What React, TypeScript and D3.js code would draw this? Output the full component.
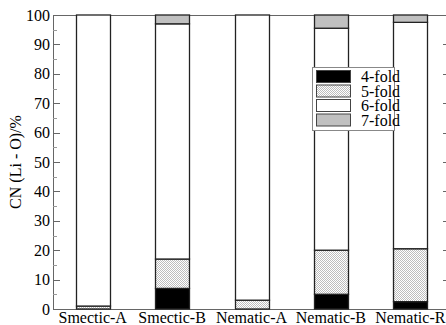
import React from "react";
import * as d3 from "d3";

const categories = ["Smectic-A", "Smectic-B", "Nematic-A", "Nematic-B", "Nematic-R"];
const seriesNames = ["4-fold", "5-fold", "6-fold", "7-fold"];
const fold4 = [0, 7, 0, 5, 2.5];
const fold5 = [1, 10, 3, 15, 18];
const fold6 = [99, 80, 97, 75.5, 77];
const fold7 = [0, 3, 0, 4.5, 2.5];
const yTicks = [0, 10, 20, 30, 40, 50, 60, 70, 80, 90, 100];
const yMinorTicks = [5, 15, 25, 35, 45, 55, 65, 75, 85, 95];

const W = 446;
const H = 325;
const left = 53;
const right = 450;
const top = 15;
const bottom = 309;

const fills = ["#000000", "url(#hatch)", "#ffffff", "#c0c0c0"];
const FONT = "'Liberation Serif', 'DejaVu Serif', serif";

export default function App() {
  const x = d3.scaleBand<string>().domain(categories).range([left, right]);
  const y = d3.scaleLinear().domain([0, 100]).range([bottom, top]);
  const rows = categories.map((c, i) => ({
    cat: c,
    "4-fold": fold4[i],
    "5-fold": fold5[i],
    "6-fold": fold6[i],
    "7-fold": fold7[i],
  }));
  const stack = d3.stack<any>().keys(seriesNames)(rows);
  const barW = 34;
  const axisColor = "#666";

  return (
    <svg width={W} height={H} style={{ position: "absolute", left: 0, top: 0, background: "#fff" }}>
      <defs>
        <pattern id="hatch" patternUnits="userSpaceOnUse" width={2} height={2}>
          <rect x={0} y={0} width={2} height={2} fill="#fff" />
          <rect x={0} y={0} width={1} height={1} fill="#bdbdbd" />
          <rect x={1} y={1} width={1} height={1} fill="#bdbdbd" />
        </pattern>
      </defs>
      {/* frame */}
      <line x1={left} x2={right} y1={top + 0.5} y2={top + 0.5} stroke={axisColor} strokeWidth={1} />
      <line x1={left} x2={right} y1={bottom + 0.5} y2={bottom + 0.5} stroke={axisColor} strokeWidth={1} />
      <line x1={left + 0.5} x2={left + 0.5} y1={top} y2={bottom + 1} stroke={axisColor} strokeWidth={1} />
      <line x1={right - 0.5} x2={right - 0.5} y1={top} y2={bottom + 1} stroke={axisColor} strokeWidth={1} />
      {/* ticks */}
      {yTicks.map((t) => (
        <g key={"t" + t}>
          <line x1={left} x2={left + 7} y1={Math.round(y(t)) + 0.5} y2={Math.round(y(t)) + 0.5} stroke={axisColor} />
          <line x1={right - 7} x2={right} y1={Math.round(y(t)) + 0.5} y2={Math.round(y(t)) + 0.5} stroke={axisColor} />
          <text x={50} y={y(t)} dy="0.35em" textAnchor="end" fontFamily={FONT} fontSize={16} fill="#000">
            {t}
          </text>
        </g>
      ))}
      {yMinorTicks.map((t) => (
        <g key={"m" + t}>
          <line x1={left} x2={left + 4} y1={Math.round(y(t)) + 0.5} y2={Math.round(y(t)) + 0.5} stroke="#999" />
          <line x1={right - 4} x2={right} y1={Math.round(y(t)) + 0.5} y2={Math.round(y(t)) + 0.5} stroke="#999" />
        </g>
      ))}
      {/* bars */}
      {stack.map((s, si) =>
        s.map((d, i) => {
          const h = y(d[0]) - y(d[1]);
          if (h <= 0) return null;
          const cx = (x(categories[i]) as number) + x.bandwidth() / 2;
          return (
            <rect
              key={si + "-" + i}
              x={Math.round(cx - barW / 2) + 0.5}
              y={y(d[1])}
              width={barW}
              height={h}
              fill={fills[si]}
              stroke="#222"
              strokeWidth={1.3}
            />
          );
        })
      )}
      {/* x labels */}
      {categories.map((c) => (
        <text
          key={c}
          x={(x(c) as number) + x.bandwidth() / 2}
          y={323}
          textAnchor="middle"
          fontFamily={FONT}
          fontSize={16}
          fill="#000"
        >
          {c}
        </text>
      ))}
      {/* y label */}
      <text
        transform={`translate(21, ${(top + bottom) / 2}) rotate(-90)`}
        textAnchor="middle"
        fontFamily={FONT}
        fontSize={16}
        fill="#000"
      >
        CN (Li - O)/%
      </text>
      {/* legend */}
      <rect x={312.5} y={67.5} width={82} height={63} fill="#fff" stroke="#888" />
      {seriesNames.map((n, i) => (
        <g key={n}>
          <rect
            x={316.5}
            y={70.5 + i * 14.5}
            width={34}
            height={12}
            fill={fills[i]}
            stroke="#444"
            strokeWidth={1}
          />
          <text x={361} y={82 + i * 14.5} fontFamily={FONT} fontSize={16} fill="#000">
            {n}
          </text>
        </g>
      ))}
    </svg>
  );
}
